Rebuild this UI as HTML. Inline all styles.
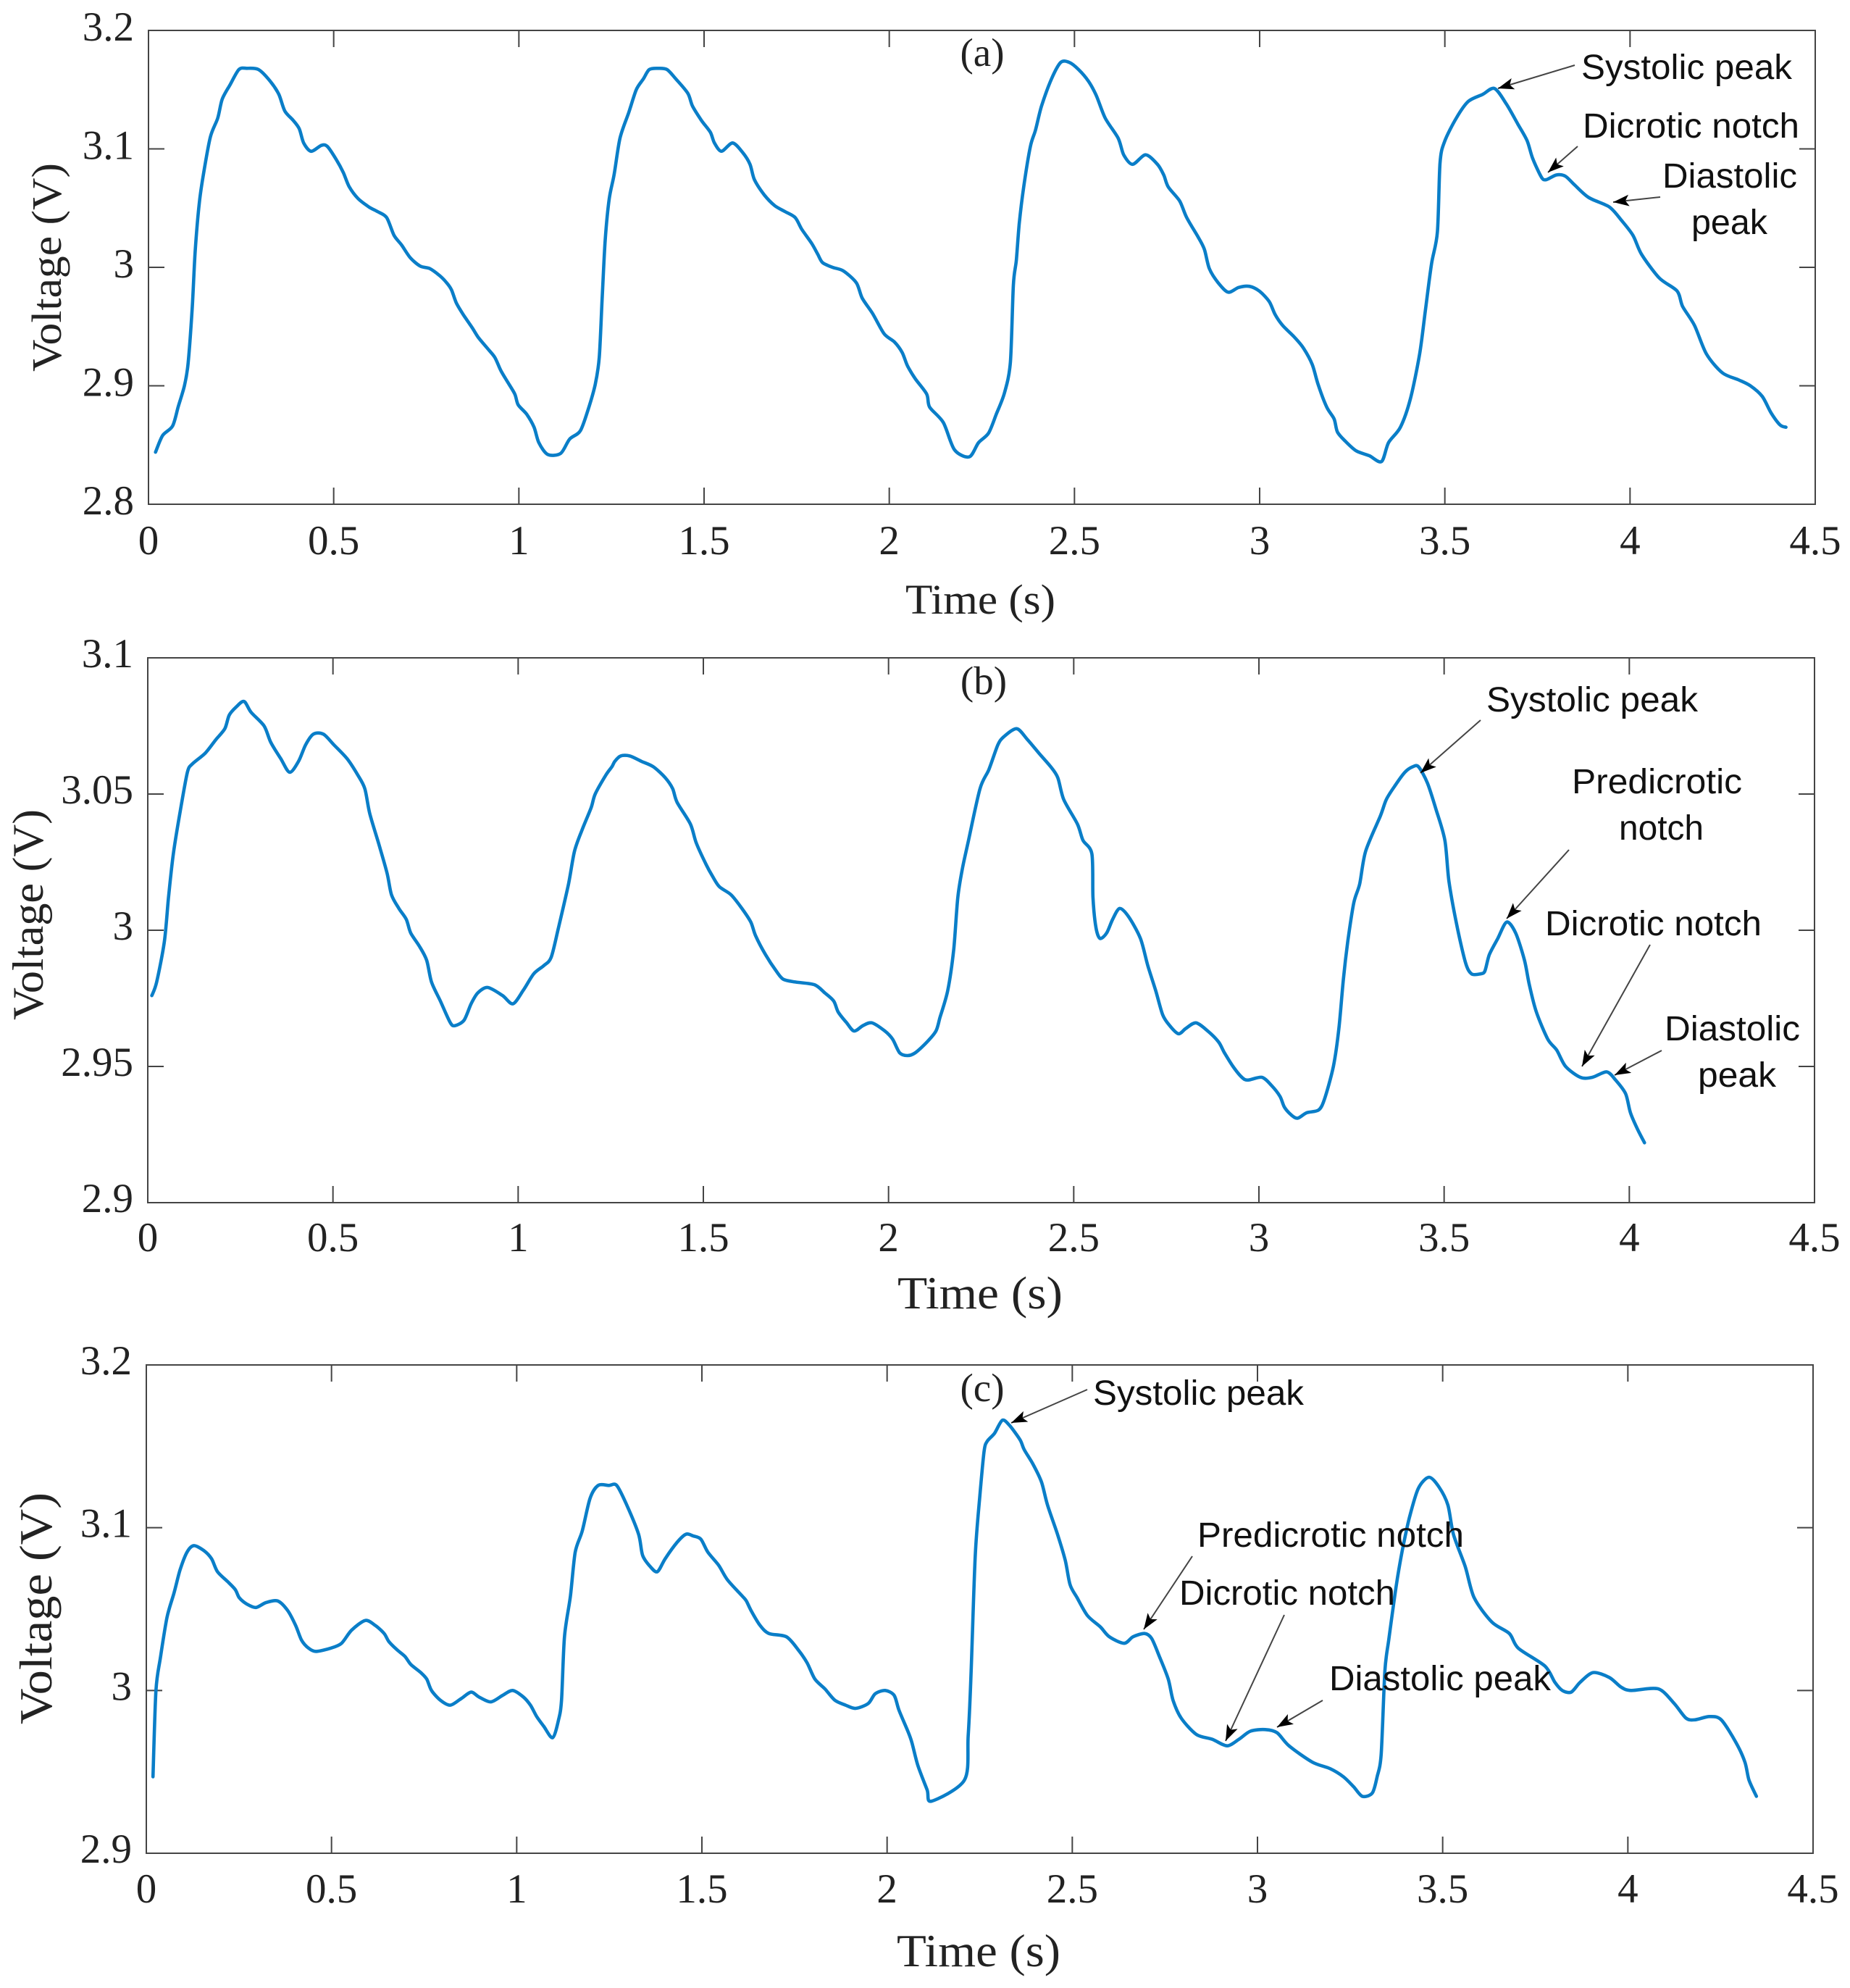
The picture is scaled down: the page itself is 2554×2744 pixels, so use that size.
<!DOCTYPE html>
<html>
<head>
<meta charset="utf-8">
<title>Pulse waveforms</title>
<style>
html,body{margin:0;padding:0;background:#fff;}
svg{display:block;}
.ann{font-family:"Liberation Sans",sans-serif;font-size:48px;fill:#111;}
.lead{stroke:#444;stroke-width:2;fill:none;marker-end:url(#arrow-head);}
.tick-label{font-family:"Liberation Serif",serif;font-size:57px;fill:#222;}
.axis-title{font-family:"Liberation Serif",serif;fill:#222;}
</style>
</head>
<body>
<svg id="chart" xmlns="http://www.w3.org/2000/svg" width="2554" height="2744" viewBox="0 0 2554 2744">
<defs>
<marker id="arrow-head" markerUnits="userSpaceOnUse" markerWidth="24" markerHeight="18" refX="22" refY="8" orient="auto">
<path d="M22,8 L0,0 L5,8 L0,16 Z" fill="#000"/>
</marker>
</defs>
<rect width="2554" height="2744" fill="#fff"/>
<g id="plots"></g>

<g>
<text class="ann" x="2183" y="109" textLength="291" lengthAdjust="spacingAndGlyphs">Systolic peak</text>
<line class="lead" x1="2174" y1="90" x2="2068" y2="122"/>
<text class="ann" x="2185" y="190" textLength="299" lengthAdjust="spacingAndGlyphs">Dicrotic notch</text>
<line class="lead" x1="2178" y1="202" x2="2137" y2="238"/>
<text class="ann" x="2295" y="259" textLength="186" lengthAdjust="spacingAndGlyphs">Diastolic</text>
<text class="ann" x="2335" y="323" textLength="105" lengthAdjust="spacingAndGlyphs">peak</text>
<line class="lead" x1="2292" y1="272" x2="2227" y2="279"/>
</g>

<g>
<text class="ann" x="2052" y="982" textLength="292" lengthAdjust="spacingAndGlyphs">Systolic peak</text>
<line class="lead" x1="2044" y1="994" x2="1961" y2="1067"/>
<text class="ann" x="2170" y="1095" textLength="235" lengthAdjust="spacingAndGlyphs">Predicrotic</text>
<text class="ann" x="2235" y="1159" textLength="117" lengthAdjust="spacingAndGlyphs">notch</text>
<line class="lead" x1="2166" y1="1173" x2="2080" y2="1268"/>
<text class="ann" x="2133" y="1291" textLength="299" lengthAdjust="spacingAndGlyphs">Dicrotic notch</text>
<line class="lead" x1="2278" y1="1304" x2="2184" y2="1472"/>
<text class="ann" x="2298" y="1436" textLength="187" lengthAdjust="spacingAndGlyphs">Diastolic</text>
<text class="ann" x="2344" y="1500" textLength="108" lengthAdjust="spacingAndGlyphs">peak</text>
<line class="lead" x1="2294" y1="1450" x2="2229" y2="1484"/>
</g>

<g>
<text class="ann" x="1509" y="1939" textLength="291" lengthAdjust="spacingAndGlyphs">Systolic peak</text>
<line class="lead" x1="1501" y1="1918" x2="1396" y2="1964"/>
<text class="ann" x="1653" y="2135" textLength="368" lengthAdjust="spacingAndGlyphs">Predicrotic notch</text>
<line class="lead" x1="1646" y1="2148" x2="1579" y2="2249"/>
<text class="ann" x="1628" y="2215" textLength="298" lengthAdjust="spacingAndGlyphs">Dicrotic notch</text>
<line class="lead" x1="1773" y1="2229" x2="1692" y2="2403"/>
<text class="ann" x="1835" y="2333" textLength="306" lengthAdjust="spacingAndGlyphs">Diastolic peak</text>
<line class="lead" x1="1826" y1="2347" x2="1763" y2="2384"/>
</g>
</svg>

<script>
const xTicks = [0, 0.5, 1, 1.5, 2, 2.5, 3, 3.5, 4, 4.5];
const xTickLabels = ['0', '0.5', '1', '1.5', '2', '2.5', '3', '3.5', '4', '4.5'];
const yTicksA = [2.8, 2.9, 3, 3.1, 3.2];
const yTickLabelsA = ['2.8', '2.9', '3', '3.1', '3.2'];
const yTicksB = [2.9, 2.95, 3, 3.05, 3.1];
const yTickLabelsB = ['2.9', '2.95', '3', '3.05', '3.1'];
const yTicksC = [2.9, 3, 3.1, 3.2];
const yTickLabelsC = ['2.9', '3', '3.1', '3.2'];

const timeA = [
.019,.038,.065,.08,.097,.107,.118,.126,.137,.148,.167,.187,.199,.22,.244,.265,.297,.329,.352,.368,.391,.407,.419,.439,.467,.483,.507,.526,.542,.566,.595,.619,.643,.663,.683,.707,.734,.759,.786,.805,.818,.831,.85,.874,.89,.914,.935,.951,.97,.989,.998,
1.021,1.041,1.054,1.078,1.113,1.137,1.166,1.188,1.206,1.217,1.225,1.233,1.244,1.257,1.273,1.297,1.317,1.336,1.352,1.376,1.4,1.424,1.456,1.469,1.493,1.517,1.528,1.547,1.577,1.604,1.624,1.636,1.663,1.691,1.719,1.746,1.764,1.791,1.807,1.82,1.847,1.876,1.911,1.927,1.955,1.986,
2.014,2.035,2.049,2.07,2.101,2.109,2.146,2.176,2.216,2.241,2.268,2.289,2.311,2.327,2.335,2.343,2.351,2.363,2.381,2.395,2.411,2.438,2.463,2.486,2.511,2.538,2.559,2.583,2.618,2.633,2.657,2.692,2.724,2.741,2.753,2.784,2.803,2.835,2.851,2.864,2.888,2.915,2.943,2.972,2.999,
3.026,3.042,3.062,3.094,3.118,3.142,3.158,3.181,3.201,3.21,3.232,3.261,3.296,3.329,3.348,3.38,3.407,3.432,3.448,3.464,3.48,3.487,3.499,3.531,3.563,3.602,3.634,3.666,3.697,3.722,3.737,3.761,3.774,3.801,3.825,3.849,3.888,3.944,3.976,
4.008,4.031,4.079,4.127,4.142,4.174,4.206,4.249,4.293,4.325,4.357,4.381,4.405,4.421];
const voltA = [
2.844,2.858,2.866,2.882,2.9,2.919,2.965,3.013,3.054,3.078,3.11,3.126,3.142,3.154,3.167,3.168,3.167,3.157,3.146,3.132,3.124,3.117,3.105,3.098,3.103,3.102,3.091,3.08,3.068,3.058,3.051,3.047,3.042,3.027,3.019,3.008,3.001,2.999,2.993,2.987,2.981,2.97,2.96,2.949,2.941,2.932,2.924,2.913,2.903,2.893,2.884,
2.876,2.865,2.852,2.842,2.843,2.855,2.862,2.881,2.901,2.924,2.975,3.023,3.058,3.078,3.109,3.131,3.15,3.159,3.167,3.168,3.167,3.159,3.147,3.136,3.124,3.114,3.105,3.098,3.105,3.097,3.087,3.074,3.061,3.052,3.047,3.042,3.032,3.02,3.011,3.004,3,2.997,2.987,2.974,2.961,2.944,
2.937,2.928,2.917,2.906,2.893,2.882,2.869,2.846,2.84,2.852,2.86,2.876,2.894,2.92,2.985,3.006,3.037,3.068,3.102,3.116,3.136,3.159,3.173,3.173,3.167,3.157,3.145,3.126,3.109,3.095,3.087,3.095,3.087,3.078,3.068,3.056,3.042,3.025,3.015,2.999,2.987,2.979,2.983,2.984,2.98,
2.971,2.96,2.951,2.941,2.932,2.918,2.901,2.882,2.872,2.861,2.853,2.845,2.841,2.836,2.852,2.865,2.889,2.927,2.965,3.003,3.03,3.088,3.106,3.126,3.14,3.146,3.151,3.138,3.121,3.107,3.092,3.076,3.074,3.078,3.077,3.07,3.059,3.051,3.04,
3.027,3.011,2.991,2.98,2.967,2.951,2.927,2.911,2.905,2.9,2.891,2.877,2.867,2.865];

const timeB = [
.011,.024,.045,.056,.069,.088,.107,.12,.155,.184,.208,.22,.239,.26,.279,.314,.332,.359,.383,.407,.426,.447,.474,.503,.538,.567,.586,.599,.623,.646,.658,.678,.698,.71,.734,.753,.766,.79,.817,.83,.854,.873,.891,.918,.958,.986,
1.014,1.042,1.069,1.089,1.109,1.136,1.152,1.173,1.197,1.208,1.237,1.253,1.261,1.277,1.301,1.333,1.365,1.397,1.417,1.429,1.465,1.481,1.508,1.524,1.543,1.575,1.604,1.628,1.641,1.668,1.697,1.716,1.748,1.8,1.828,1.852,1.864,1.887,1.907,1.931,1.955,1.99,
2.011,2.03,2.051,2.072,2.104,2.128,2.139,2.16,2.176,2.187,2.2,2.216,2.247,2.271,2.295,2.311,2.346,2.375,2.406,2.438,2.457,2.473,2.51,2.525,2.549,2.552,2.56,2.571,2.589,2.605,2.624,2.648,2.68,2.7,2.721,2.74,2.759,2.783,2.803,2.83,2.862,2.891,2.907,2.93,2.954,2.97,
3.008,3.034,3.057,3.069,3.089,3.105,3.129,3.161,3.177,3.201,3.216,3.228,3.24,3.256,3.272,3.288,3.328,3.344,3.367,3.394,3.415,3.431,3.455,3.479,3.502,3.513,3.534,3.558,3.574,3.598,3.61,3.622,3.645,3.669,3.693,3.717,3.73,3.749,3.78,3.804,3.828,3.868,3.9,3.939,3.963,3.99,
4.003,4.022,4.041];
const voltB = [
2.976,2.981,2.996,3.012,3.028,3.044,3.058,3.061,3.065,3.07,3.074,3.079,3.082,3.084,3.08,3.075,3.069,3.063,3.058,3.062,3.068,3.072,3.072,3.068,3.063,3.057,3.052,3.043,3.032,3.021,3.013,3.008,3.004,2.999,2.994,2.989,2.981,2.974,2.966,2.965,2.967,2.973,2.977,2.979,2.976,2.973,
2.978,2.984,2.987,2.99,3.001,3.017,3.029,3.037,3.045,3.05,3.057,3.06,3.062,3.064,3.064,3.062,3.06,3.056,3.052,3.047,3.039,3.032,3.024,3.02,3.016,3.013,3.008,3.003,2.998,2.991,2.985,2.982,2.981,2.98,2.977,2.974,2.97,2.966,2.963,2.965,2.966,2.963,
2.96,2.955,2.954,2.955,2.959,2.963,2.968,2.978,2.993,3.012,3.023,3.033,3.052,3.059,3.068,3.071,3.074,3.07,3.065,3.06,3.056,3.048,3.039,3.033,3.028,3.012,3.001,2.997,2.999,3.004,3.008,3.005,2.997,2.987,2.978,2.969,2.965,2.962,2.964,2.966,2.963,2.959,2.955,2.95,2.946,2.945,
2.946,2.943,2.939,2.935,2.932,2.931,2.933,2.934,2.938,2.95,2.964,2.982,2.996,3.01,3.017,3.029,3.042,3.048,3.053,3.058,3.06,3.06,3.054,3.044,3.033,3.018,3.002,2.988,2.984,2.984,2.985,2.991,2.997,3.003,2.999,2.989,2.98,2.97,2.96,2.956,2.95,2.946,2.946,2.948,2.945,2.94,
2.933,2.927,2.922];

const timeC = [
.018,.026,.038,.056,.075,.091,.11,.128,.155,.176,.192,.219,.24,.251,.272,.296,.323,.355,.382,.403,.419,.438,.458,.498,.527,.554,.591,.618,.642,.655,.677,.698,.714,.741,.757,.77,.794,.821,.85,.877,.898,.93,.962,.989,
1.018,1.037,1.054,1.073,1.097,1.113,1.121,1.129,1.145,1.158,1.177,1.198,1.22,1.249,1.27,1.297,1.329,1.34,1.361,1.38,1.401,1.433,1.457,1.476,1.497,1.516,1.545,1.569,1.609,1.62,1.633,1.657,1.681,1.728,1.76,1.784,1.805,1.832,1.859,1.888,1.915,1.949,1.968,1.995,
2.019,2.032,2.056,2.067,2.083,2.108,2.12,2.209,2.219,2.227,2.238,2.251,2.262,2.27,2.29,2.311,2.33,2.359,2.37,2.394,2.417,2.433,2.46,2.481,2.494,2.513,2.541,2.576,2.6,2.64,2.664,2.695,2.714,2.735,2.759,2.772,2.794,2.835,2.878,2.918,2.95,2.981,
3.021,3.053,3.085,3.148,3.196,3.232,3.259,3.283,3.31,3.323,3.334,3.344,3.355,3.375,3.391,3.41,3.434,3.463,3.49,3.514,3.529,3.561,3.585,3.633,3.68,3.704,3.776,3.803,3.823,3.847,3.871,3.906,3.95,3.982,
4.009,4.082,4.125,4.157,4.181,4.22,4.252,4.292,4.316,4.327,4.347];
const voltC = [
2.947,3,3.02,3.045,3.06,3.074,3.085,3.089,3.086,3.081,3.073,3.067,3.062,3.057,3.053,3.051,3.054,3.055,3.049,3.04,3.031,3.026,3.024,3.026,3.029,3.037,3.043,3.04,3.035,3.03,3.025,3.021,3.016,3.011,3.007,3,2.994,2.991,2.995,2.999,2.996,2.993,2.997,3,
2.996,2.991,2.984,2.978,2.971,2.982,2.994,3.033,3.058,3.085,3.098,3.118,3.126,3.126,3.126,3.114,3.096,3.083,3.076,3.073,3.081,3.091,3.096,3.095,3.093,3.085,3.077,3.068,3.058,3.055,3.049,3.04,3.035,3.033,3.025,3.017,3.007,3.001,2.994,2.991,2.989,2.992,2.998,3,
2.997,2.988,2.975,2.968,2.954,2.939,2.932,2.945,2.972,3.012,3.083,3.121,3.147,3.153,3.158,3.166,3.163,3.154,3.148,3.139,3.128,3.114,3.096,3.08,3.065,3.057,3.046,3.039,3.033,3.029,3.033,3.035,3.032,3.021,3.007,2.994,2.983,2.973,2.97,2.966,2.97,2.975,
2.976,2.974,2.966,2.956,2.952,2.947,2.941,2.935,2.937,2.947,2.961,3.012,3.032,3.065,3.086,3.106,3.124,3.131,3.125,3.114,3.096,3.076,3.057,3.042,3.035,3.026,3.015,3.005,3,2.999,3.005,3.011,3.008,3.002,
3,3.001,2.992,2.983,2.982,2.984,2.982,2.968,2.956,2.945,2.935];

const NS = 'http://www.w3.org/2000/svg';
const plotLayer = document.getElementById('plots');

function make(tag, parent, attrs) {
  const el = document.createElementNS(NS, tag);
  for (const k in attrs) el.setAttribute(k, attrs[k]);
  parent.appendChild(el);
  return el;
}

/* smooth curve through the sampled points (Catmull-Rom with gentle handles) */
function smoothPath(p) {
  const k = 1 / 7;
  let d = 'M' + p[0][0].toFixed(1) + ' ' + p[0][1].toFixed(1);
  for (let i = 0; i < p.length - 1; i++) {
    const a = p[Math.max(i - 1, 0)], b = p[i], c = p[i + 1], e = p[Math.min(i + 2, p.length - 1)];
    const c1x = b[0] + (c[0] - a[0]) * k, c1y = b[1] + (c[1] - a[1]) * k;
    const c2x = c[0] - (e[0] - b[0]) * k, c2y = c[1] - (e[1] - b[1]) * k;
    d += 'C' + c1x.toFixed(1) + ' ' + c1y.toFixed(1) + ' ' + c2x.toFixed(1) + ' ' + c2y.toFixed(1) + ' ' + c[0].toFixed(1) + ' ' + c[1].toFixed(1);
  }
  return d;
}

function drawPanel(cfg) {
  const xMin = 0, xMax = 4.5;
  const yMin = cfg.yTicks[0], yMax = cfg.yTicks[cfg.yTicks.length - 1];
  const sx = t => cfg.left + (t - xMin) / (xMax - xMin) * (cfg.right - cfg.left);
  const sy = v => cfg.bottom - (v - yMin) / (yMax - yMin) * (cfg.bottom - cfg.top);

  const g = make('g', plotLayer, {});
  
  

  const frame = make('rect', g, {x: cfg.left, y: cfg.top, width: cfg.right - cfg.left, height: cfg.bottom - cfg.top, fill: 'none', stroke: '#444', 'stroke-width': 2});
  
  

  xTicks.forEach((t, i) => {
    const x = sx(t);
    if (i > 0 && i < xTicks.length - 1) {
      const d = 'M' + x + ' ' + cfg.top + 'V' + (cfg.top + 23) + 'M' + x + ' ' + cfg.bottom + 'V' + (cfg.bottom - 23);
      const tick = make('path', g, {d: d, stroke: '#444', 'stroke-width': 2, fill: 'none'});
      
      
    }
    const label = make('text', g, {x: x, y: cfg.xLabelY, 'text-anchor': 'middle', class: 'tick-label'});
    label.textContent = xTickLabels[i];
    
    
  });

  cfg.yTicks.forEach((v, i) => {
    const y = sy(v);
    if (i > 0 && i < cfg.yTicks.length - 1) {
      const d = 'M' + cfg.left + ' ' + y + 'H' + (cfg.left + 22) + 'M' + cfg.right + ' ' + y + 'H' + (cfg.right - 22);
      const tick = make('path', g, {d: d, stroke: '#444', 'stroke-width': 2, fill: 'none'});
      
      
    }
    const label = make('text', g, {x: cfg.left - 20, y: y + cfg.yLabelDy, 'text-anchor': 'end', class: 'tick-label'});
    label.textContent = cfg.yTickLabels[i];
    
    
  });

  const pts = cfg.time.map((t, i) => [sx(t), sy(cfg.volt[i])]);
  const line = make('path', g, {d: smoothPath(pts), fill: 'none', stroke: '#0a7ec8', 'stroke-width': 4.6, 'stroke-linejoin': 'round', 'stroke-linecap': 'round'});
  
  

  const xt = make('text', g, {x: cfg.xTitle[0], y: cfg.xTitle[1], class: 'axis-title', 'font-size': cfg.xTitle[2], textLength: cfg.xTitle[3], lengthAdjust: 'spacingAndGlyphs'});
  xt.textContent = 'Time (s)';
  
  

  const yt = make('text', g, {transform: 'translate(' + cfg.yTitle[0] + ' ' + cfg.yTitle[1] + ') rotate(-90)', class: 'axis-title', 'font-size': cfg.yTitle[2], textLength: cfg.yTitle[3], lengthAdjust: 'spacingAndGlyphs'});
  yt.textContent = 'Voltage (V)';
  
  

  const tag = make('text', g, {x: cfg.tag[0], y: cfg.tag[1], 'text-anchor': 'middle', class: 'axis-title', 'font-size': 55});
  tag.textContent = '(' + cfg.id + ')';
  
  
}

drawPanel({id: 'a', left: 205, right: 2506, top: 42, bottom: 696, xLabelY: 765, yLabelDy: 14,
  yTicks: yTicksA, yTickLabels: yTickLabelsA, time: timeA, volt: voltA,
  xTitle: [1250, 847, 58, 207], yTitle: [84, 513, 58, 288], tag: [1356, 91]});
drawPanel({id: 'b', left: 204, right: 2505, top: 908, bottom: 1660, xLabelY: 1727, yLabelDy: 13,
  yTicks: yTicksB, yTickLabels: yTickLabelsB, time: timeB, volt: voltB,
  xTitle: [1239, 1806, 64, 228], yTitle: [59, 1408, 60, 291], tag: [1358, 958]});
drawPanel({id: 'c', left: 202, right: 2503, top: 1884, bottom: 2558, xLabelY: 2626, yLabelDy: 13,
  yTicks: yTicksC, yTickLabels: yTickLabelsC, time: timeC, volt: voltC,
  xTitle: [1238, 2714, 64, 226], yTitle: [71, 2380, 64, 320], tag: [1356, 1934]});
</script>
</body>
</html>
